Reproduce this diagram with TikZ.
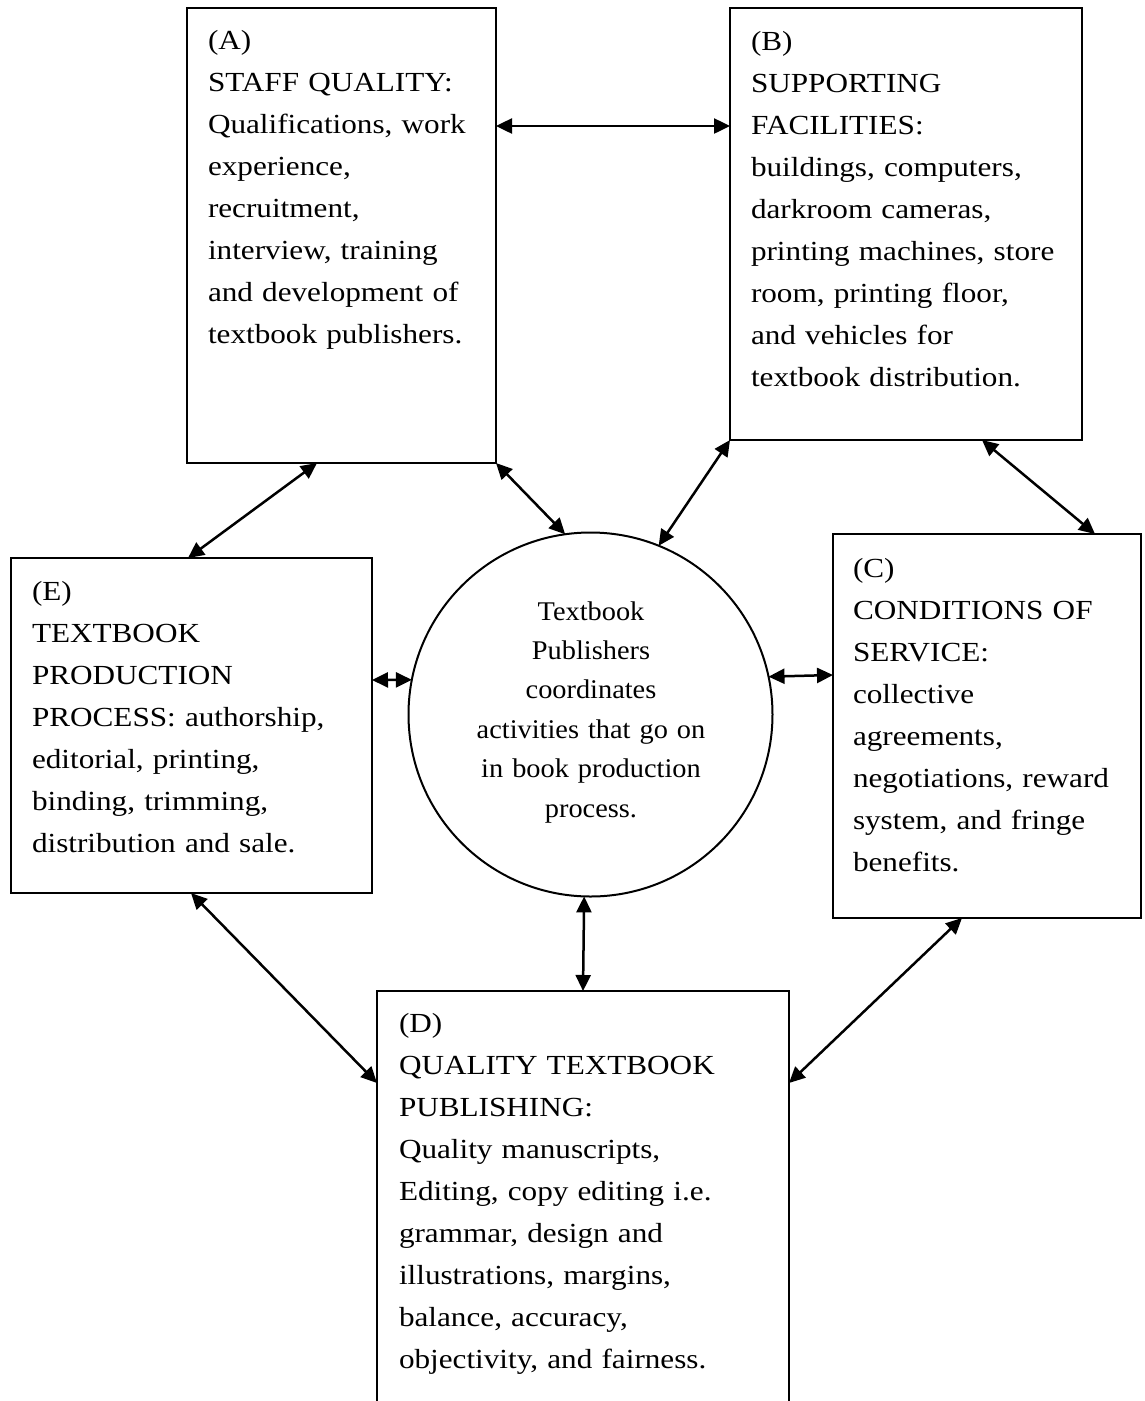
\documentclass[tikz,border=0pt]{standalone}
\usepackage{fontspec}
\setmainfont[FakeStretch=1.13]{Liberation Serif}
\newfontfamily\circfont[FakeStretch=1.05]{Liberation Serif}
\usetikzlibrary{arrows.meta,calc}
\begin{document}
\begin{tikzpicture}[x=1pt,y=-1pt,
  box/.style={draw,line width=2pt,rectangle,inner sep=0pt,outer sep=0pt},
  hub/.style={draw,line width=2pt,circle,inner sep=0pt,outer sep=0pt,minimum size=364pt},
  txt/.style={anchor=base west,inner sep=0pt,outer sep=0pt,text width=400pt,align=left,font=\fontsize{27.6}{42}\selectfont},
  ctxt/.style={anchor=base,inner sep=0pt,outer sep=0pt,text width=360pt,align=center,font=\circfont\fontsize{27}{39.4}\selectfont},
  conn/.style={line width=2.5pt,{Triangle[length=16pt,width=15pt]}-{Triangle[length=16pt,width=15pt]}}
]
\clip (0,0) rectangle (1144,1401);
\fill[white] (0,0) rectangle (1144,1401);

% boxes
\node[box,minimum width=309pt,minimum height=455pt] (A) at (341.5,235.5) {};
\node[box,minimum width=352pt,minimum height=432pt] (B) at (906,224) {};
\node[box,minimum width=308pt,minimum height=384pt] (C) at (987,726) {};
\node[box,minimum width=361pt,minimum height=335pt] (E) at (191.5,725.5) {};
\node[box,minimum width=412pt,minimum height=439pt] (D) at (583,1210.5) {};
\node[hub] (P) at (590.5,714.5) {};

% texts
\node[txt] (At) at ($(A.north west)+(21,41)$) {(A)\\STAFF QUALITY:\\Qualifications, work\\experience,\\recruitment,\\interview, training\\and development of\\textbook publishers.};
\node[txt] (Bt) at ($(B.north west)+(21,42)$) {(B)\\SUPPORTING\\FACILITIES:\\buildings, computers,\\darkroom cameras,\\printing machines, store\\room, printing floor,\\and vehicles for\\textbook distribution.};
\node[txt] (Ct) at ($(C.north west)+(20,43)$) {(C)\\CONDITIONS OF\\SERVICE:\\collective\\agreements,\\negotiations, reward\\system, and fringe\\benefits.};
\node[txt] (Et) at ($(E.north west)+(21,42)$) {(E)\\TEXTBOOK\\PRODUCTION\\PROCESS: authorship,\\editorial, printing,\\binding, trimming,\\distribution and sale.};
\node[txt] (Dt) at ($(D.north west)+(22,41)$) {(D)\\QUALITY TEXTBOOK\\PUBLISHING:\\Quality manuscripts,\\Editing, copy editing i.e.\\grammar, design and\\illustrations, margins,\\balance, accuracy,\\objectivity, and fairness.};
\node[ctxt] (Pt) at ($(P.center)+(0.5,-94.5)$) {Textbook\\Publishers\\coordinates\\activities that go on\\in book production\\process.};

% connectors
\draw[conn] ($(A.north east)+(0,118)$) -- ($(B.north west)+(0,118)$);
\draw[conn] ($(A.south west)+(130,0)$) -- ($(E.north west)+(177,0)$);
\draw[conn] (A.south east) -- (P.98);
\draw[conn] (B.south west) -- (P.68);
\draw[conn] ($(B.south west)+(252,0)$) -- ($(C.north west)+(262,0)$);
\draw[conn] ($(E.north east)+(0,122)$) -- (P.169);
\draw[conn] (P.12) -- ($(C.north west)+(0,141)$);
\draw[conn] ($(E.south west)+(180,0)$) -- ($(D.north west)+(0,92)$);
\draw[conn] (P.268) -- (D.north);
\draw[conn] ($(C.south west)+(129,0)$) -- ($(D.north east)+(0,92)$);
\end{tikzpicture}
\end{document}
